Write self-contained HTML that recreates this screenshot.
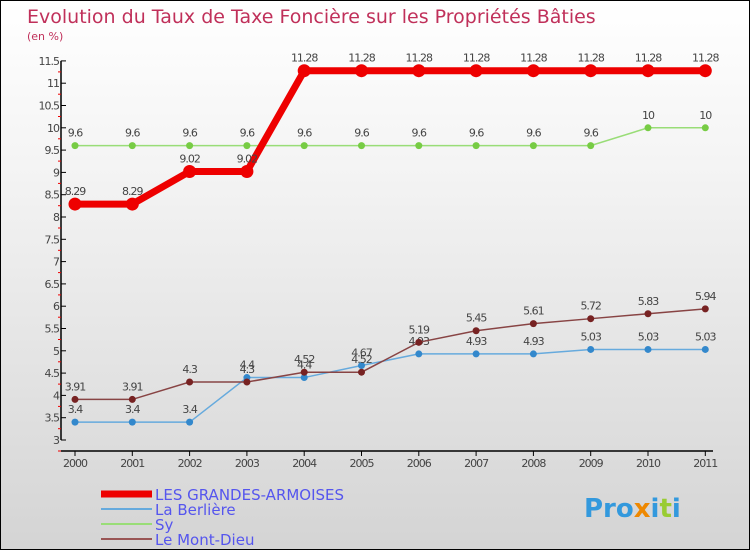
<!DOCTYPE html>
<html><head><meta charset="utf-8"><style>
body{margin:0}
#c{width:748px;height:548px;border:1px solid #000;background:linear-gradient(#fff,#f4f4f4 30%,#d4d4d4);position:relative;font-family:"DejaVu Sans","Liberation Sans",sans-serif}
</style></head><body>
<div id="c">
<svg width="748" height="548" id="s" style="position:absolute;left:0;top:0">
<text x="26" y="22" font-size="19" fill="#c0305a">Evolution du Taux de Taxe Foncière sur les Propriétés Bâties</text>
<text x="26" y="39" font-size="11" fill="#c0305a">(en %)</text>
</svg>
</div>
<script>
const years=[2000,2001,2002,2003,2004,2005,2006,2007,2008,2009,2010,2011];
const grandes=[8.29,8.29,9.02,9.02,11.28,11.28,11.28,11.28,11.28,11.28,11.28,11.28];
const berliere=[3.4,3.4,3.4,4.4,4.4,4.67,4.93,4.93,4.93,5.03,5.03,5.03];
const sy=[9.6,9.6,9.6,9.6,9.6,9.6,9.6,9.6,9.6,9.6,10,10];
const montdieu=[3.91,3.91,4.3,4.3,4.52,4.52,5.19,5.45,5.61,5.72,5.83,5.94];
const yTicks=[3,3.5,4,4.5,5,5.5,6,6.5,7,7.5,8,8.5,9,9.5,10,10.5,11,11.5];
const NS='http://www.w3.org/2000/svg';
const s=document.getElementById('s');
const X=i=>74+i*57.3, Y=v=>439-(v-3)*44.6;
function el(t,a,p){const e=document.createElementNS(NS,t);for(const k in a)e.setAttribute(k,a[k]);(p||s).appendChild(e);return e;}
let ax=el('line',{x1:60,y1:Y(11.5),x2:60,y2:Y(3),stroke:'#000','stroke-width':1.5});


let xa=el('line',{x1:60,y1:450,x2:712,y2:450,stroke:'#000','stroke-width':1.5});


yTicks.forEach(v=>{
 el('line',{x1:60,y1:Y(v),x2:65,y2:Y(v),stroke:'#000'});
 el('line',{x1:57,y1:Y(v)+11,x2:60,y2:Y(v)+11,stroke:'#e00'});
 let t=el('text',{x:58,y:Y(v)+4,'font-size':11,'text-anchor':'end',fill:'#444','letter-spacing':'-1'});
 t.textContent=v;
 
 
});
years.forEach((y,i)=>{
 el('line',{x1:X(i),y1:450,x2:X(i),y2:455,stroke:'#000'});
 let t=el('text',{x:X(i),y:466,'font-size':11,'text-anchor':'middle',fill:'#444','letter-spacing':'-1'});
 t.textContent=y;
 
 
});
function series(d,color,w,r,name,dot){
 const g=el('g',{});
 
 
 el('polyline',{points:d.map((v,i)=>X(i)+','+Y(v)).join(' '),fill:'none',stroke:color,'stroke-width':w},g);
 d.forEach((v,i)=>{
  const c=el('circle',{cx:X(i),cy:Y(v),r:r,fill:dot},g);
  
  
  const t=el('text',{x:X(i),y:Y(v)-9,'font-size':11,'text-anchor':'middle',fill:'#444','letter-spacing':'-1'},g);
  t.textContent=v;
 });
}
series(sy,'#99dd77',1.5,3.5,'series-sy','#77cc44');
series(berliere,'#66aadd',1.5,3.5,'series-la-berliere','#3388cc');
series(montdieu,'#884444',1.5,3.5,'series-le-mont-dieu','#772222');
series(grandes,'#ee0000',7,6.5,'series-les-grandes-armoises','#ee0000');
const leg=[['LES GRANDES-ARMOISES','#ee0000',7],['La Berlière','#66aadd',2],['Sy','#99dd77',2],['Le Mont-Dieu','#995555',2]];
leg.forEach((l,i)=>{
 const y=493+i*15;
 const g=el('g',{});
 
 
 el('line',{x1:100,y1:y,x2:151,y2:y,stroke:l[1],'stroke-width':l[2]},g);
 const t=el('text',{x:154,y:y+6,'font-size':15,fill:'#5555ee'},g);
 t.textContent=l[0];
});
const lg=el('text',{x:583,y:516,'font-size':26,'font-weight':'bold',fill:'#3399dd'});


lg.innerHTML='Pro<tspan fill="#ee8800">x</tspan>i<tspan fill="#99cc33">t</tspan>i';
</script>
</body></html>
